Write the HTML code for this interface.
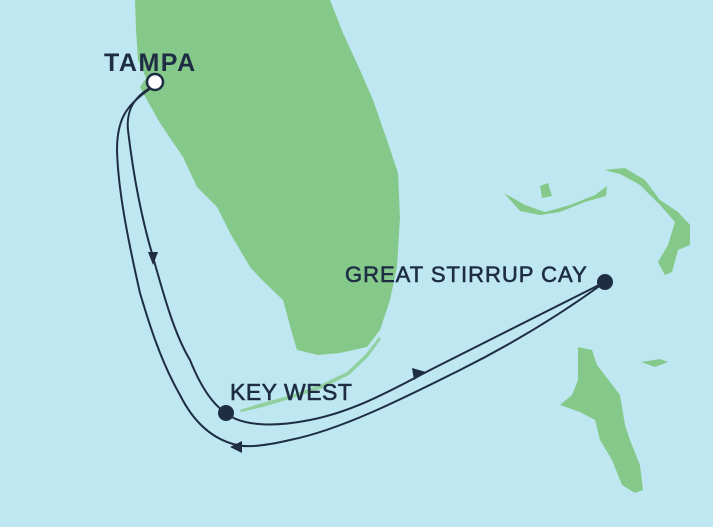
<!DOCTYPE html>
<html><head><style>
html,body{margin:0;padding:0;width:713px;height:527px;overflow:hidden;background:#bfe7f1;}
text{font-family:"Liberation Sans",sans-serif;fill:#1e2d44;}
</style></head><body>
<svg width="713" height="527" viewBox="0 0 713 527" xmlns="http://www.w3.org/2000/svg">
<rect width="713" height="527" fill="#bfe7f1"/>
<g fill="#85c98a">
<path d="M135,0 L330,0 L343,33 L360,70 L373,100 L387,140 L398,173 L400,217 L397,267 L390,300 L380,330 L367,347 L340,353 L318,355 L297,350 L292,333 L283,300 L262,280 L250,267 L230,233 L217,207 L197,187 L183,157 L168,135 L160,123 L147,100 L140,87 L146,78 L138,60 L136,30 Z"/>
<path d="M240,410 L262,403 L292,395 L322,384 L347,372 L366,354 L379,337 L381,339 L368,357 L349,375 L323,388 L293,398 L263,407 L241,412 Z" opacity="0.8"/>
<!-- Grand Bahama -->
<path d="M504,193 L525,205 L545,212 L570,205 L595,195 L607,186 L606,196 L585,202 L560,212 L540,215 L520,211 Z"/>
<path d="M540,186 L548,183 L552,196 L542,198 Z"/>
<!-- Abaco -->
<path d="M604,170 L625,168 L645,180 L660,200 L678,212 L690,225 L690,245 L678,250 L672,272 L665,275 L658,262 L668,245 L675,222 L660,205 L640,185 L620,174 Z"/>
<!-- Andros -->
<path d="M578,347 L592,350 L597,365 L620,395 L625,425 L630,440 L640,465 L643,490 L635,493 L622,485 L612,460 L600,440 L595,420 L580,412 L560,405 L572,395 L578,380 Z"/>
<path d="M641,362 L660,359 L668,362 L655,367 Z"/>
</g>
<g fill="none" stroke="#1e2d44" stroke-width="2">
<path d="M154,86 C135,95 126,110 128,130 C135,190 145,230 153,257 C165,300 175,335 190,360 C200,385 212,404 226,413"/>
<path d="M226,413 C240,425 270,428 310,420 C360,410 400,385 440,365 C500,335 560,305 605,282"/>
<path d="M605,282 C560,315 510,345 460,370 C400,400 340,430 290,440 C260,447 245,447 237,445 C215,440 195,425 180,395 C160,360 148,320 140,293 C128,240 118,190 117,150 C117,120 125,105 154,86"/>
</g>
<g fill="#1e2d44">
<path d="M148,252 L158,252 L153,265 Z"/>
<path d="M426,372 L412,368 L414,380 Z"/>
<path d="M230,447 L242,441 L242,453 Z"/>
<circle cx="226" cy="413" r="8"/>
<circle cx="605" cy="282" r="8"/>
</g>
<circle cx="155" cy="82" r="8" fill="#fff" stroke="#1e2d44" stroke-width="2.5"/>
<text x="104" y="71" font-size="25" font-weight="bold" letter-spacing="1.5">TAMPA</text>
<text x="230" y="400" font-size="23" letter-spacing="0.5" stroke="#1e2d44" stroke-width="0.6">KEY WEST</text>
<text x="345" y="282" font-size="22" letter-spacing="1" stroke="#1e2d44" stroke-width="0.6">GREAT STIRRUP CAY</text>
</svg>
</body></html>
